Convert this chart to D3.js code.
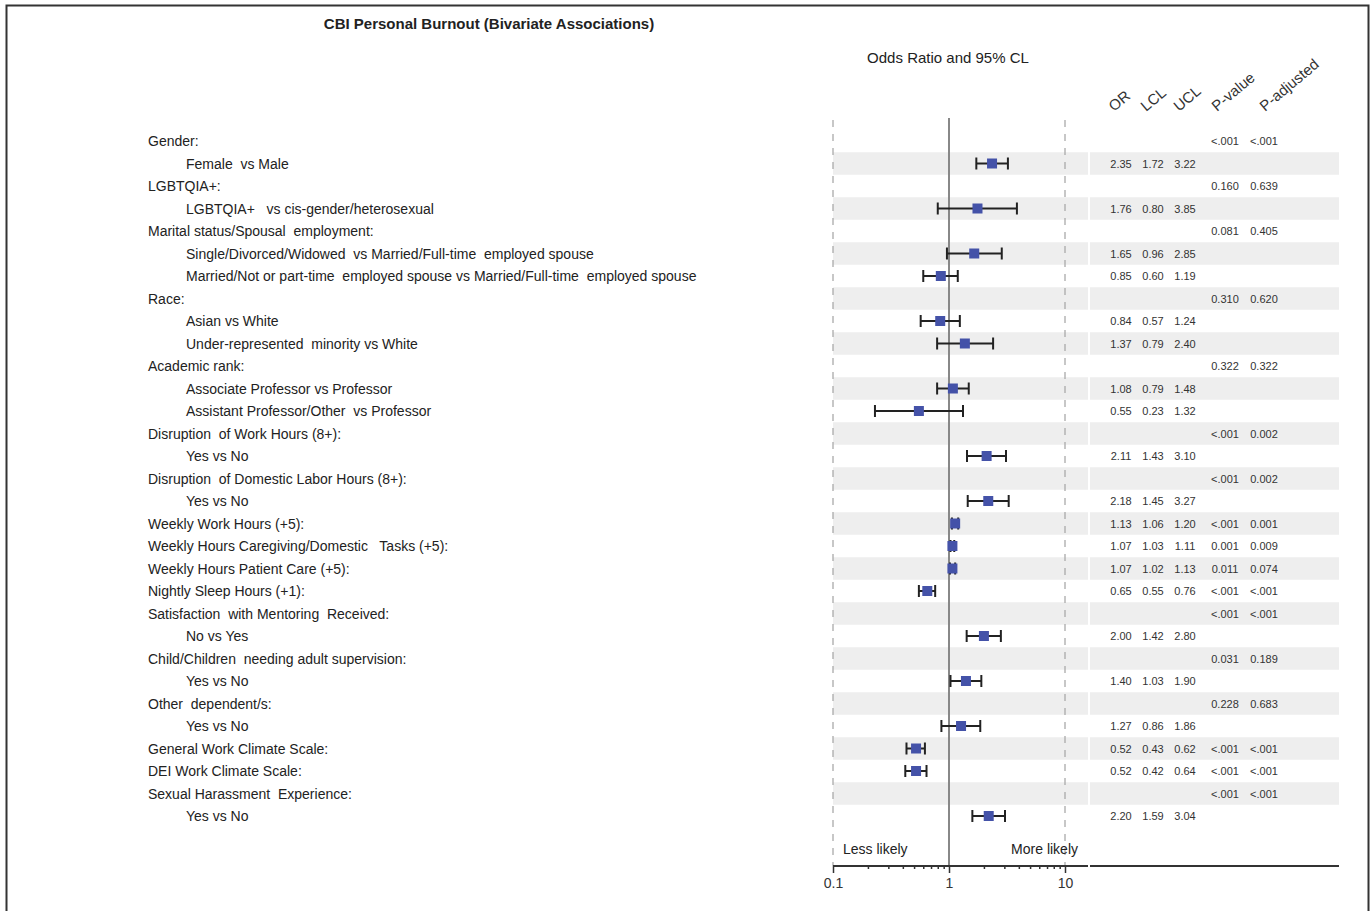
<!DOCTYPE html>
<html>
<head>
<meta charset="utf-8">
<script src="https://cdn.jsdelivr.net/npm/d3@7"></script>
<style>
  html, body { margin: 0; padding: 0; background: #fff; }
  svg { display: block; font-family: "Liberation Sans", Arial, sans-serif; }
</style>
</head>
<body>
<svg id="chart" width="1371" height="911"></svg>
<script>
// ---- data ----
const labels = [
  "Gender:",
  "Female  vs Male",
  "LGBTQIA+:",
  "LGBTQIA+   vs cis-gender/heterosexual",
  "Marital status/Spousal  employment:",
  "Single/Divorced/Widowed  vs Married/Full-time  employed spouse",
  "Married/Not or part-time  employed spouse vs Married/Full-time  employed spouse",
  "Race:",
  "Asian vs White",
  "Under-represented  minority vs White",
  "Academic rank:",
  "Associate Professor vs Professor",
  "Assistant Professor/Other  vs Professor",
  "Disruption  of Work Hours (8+):",
  "Yes vs No",
  "Disruption  of Domestic Labor Hours (8+):",
  "Yes vs No",
  "Weekly Work Hours (+5):",
  "Weekly Hours Caregiving/Domestic   Tasks (+5):",
  "Weekly Hours Patient Care (+5):",
  "Nightly Sleep Hours (+1):",
  "Satisfaction  with Mentoring  Received:",
  "No vs Yes",
  "Child/Children  needing adult supervision:",
  "Yes vs No",
  "Other  dependent/s:",
  "Yes vs No",
  "General Work Climate Scale:",
  "DEI Work Climate Scale:",
  "Sexual Harassment  Experience:",
  "Yes vs No"
];
// 0 = category level, 1 = indented sub-level
const levels = [0,1,0,1,0,1,1,0,1,1,0,1,1,0,1,0,1,0,0,0,0,0,1,0,1,0,1,0,0,0,1];
const oddsRatio = [null,2.35,null,1.76,null,1.65,0.85,null,0.84,1.37,null,1.08,0.55,null,2.11,null,2.18,1.13,1.07,1.07,0.65,null,2.00,null,1.40,null,1.27,0.52,0.52,null,2.20];
const lowerCL   = [null,1.72,null,0.80,null,0.96,0.60,null,0.57,0.79,null,0.79,0.23,null,1.43,null,1.45,1.06,1.03,1.02,0.55,null,1.42,null,1.03,null,0.86,0.43,0.42,null,1.59];
const upperCL   = [null,3.22,null,3.85,null,2.85,1.19,null,1.24,2.40,null,1.48,1.32,null,3.10,null,3.27,1.20,1.11,1.13,0.76,null,2.80,null,1.90,null,1.86,0.62,0.64,null,3.04];
const pValue    = ["<.001",null,"0.160",null,"0.081",null,null,"0.310",null,null,"0.322",null,null,"<.001",null,"<.001",null,"<.001","0.001","0.011","<.001","<.001",null,"0.031",null,"0.228",null,"<.001","<.001","<.001",null];
const pAdjusted = ["<.001",null,"0.639",null,"0.405",null,null,"0.620",null,null,"0.322",null,null,"0.002",null,"0.002",null,"0.001","0.009","0.074","<.001","<.001",null,"0.189",null,"0.683",null,"<.001","<.001","<.001",null];
const columnHeaders = ["OR","LCL","UCL","P-value","P-adjusted"];
const majorTicks = [0.1, 1, 10];
const minorTicks = [0.2,0.3,0.4,0.5,0.6,0.7,0.8,0.9,2,3,4,5,6,7,8,9];
const title = "CBI Personal Burnout (Bivariate Associations)";
const subtitle = "Odds Ratio and 95% CL";

// ---- layout ----
const svg = d3.select("#chart");
const x = d3.scaleLog().domain([0.1, 10]).range([833, 1065]);
const y = d3.scaleLinear().domain([0, labels.length - 1]).range([141, 816]);
const rowH = 22.5;
const axisY = 866;
const plotRight = 1088;
const tableLeft = 1090, tableRight = 1339;
const colX = [1121, 1153, 1185, 1225, 1264];

// frame
svg.append("rect").attr("x", 6.5).attr("y", 5.5).attr("width", 1362).attr("height", 930)
  .attr("fill", "none").attr("stroke", "#333").attr("stroke-width", 2);

// title
svg.append("text").attr("x", 489).attr("y", 29).attr("text-anchor", "middle")
  .attr("font-size", 15).attr("font-weight", "bold").attr("fill", "#222").text(title);
svg.append("text").attr("x", 948).attr("y", 63).attr("text-anchor", "middle")
  .attr("font-size", 15).attr("fill", "#222").text(subtitle);

// bands (even rows, 1-based)
const idx = d3.range(labels.length);
const banded = idx.filter(i => i % 2 === 1);
svg.append("g").selectAll("rect.pb").data(banded).join("rect")
  .attr("x", x(0.1)).attr("width", plotRight - x(0.1))
  .attr("y", i => y(i) - rowH / 2).attr("height", rowH).attr("fill", "#eeeeee");
svg.append("g").selectAll("rect.tb").data(banded).join("rect")
  .attr("x", tableLeft).attr("width", tableRight - tableLeft)
  .attr("y", i => y(i) - rowH / 2).attr("height", rowH).attr("fill", "#eeeeee");

// dashed lines at 0.1 and 10
svg.append("g").selectAll("line").data([0.1, 10]).join("line")
  .attr("x1", d => x(d)).attr("x2", d => x(d)).attr("y1", 120).attr("y2", axisY)
  .attr("stroke", "#aaa").attr("stroke-width", 1.3).attr("stroke-dasharray", "7,7");

// reference line at 1
svg.append("line").attr("x1", x(1)).attr("x2", x(1)).attr("y1", 118).attr("y2", axisY)
  .attr("stroke", "#888").attr("stroke-width", 2);

// labels
svg.append("g").selectAll("text").data(idx).join("text")
  .attr("x", i => levels[i] ? 186 : 148).attr("y", i => y(i) + 5)
  .attr("font-size", 14).attr("fill", "#222").style("white-space", "pre")
  .text(i => labels[i]);

// error bars
const est = idx.filter(i => oddsRatio[i] != null);
const eb = svg.append("g").attr("stroke", "#222").attr("stroke-width", 2);
eb.selectAll("line.h").data(est).join("line")
  .attr("x1", i => x(lowerCL[i])).attr("x2", i => x(upperCL[i]))
  .attr("y1", i => y(i)).attr("y2", i => y(i));
eb.selectAll("line.l").data(est).join("line")
  .attr("x1", i => x(lowerCL[i])).attr("x2", i => x(lowerCL[i]))
  .attr("y1", i => y(i) - 6).attr("y2", i => y(i) + 6);
eb.selectAll("line.u").data(est).join("line")
  .attr("x1", i => x(upperCL[i])).attr("x2", i => x(upperCL[i]))
  .attr("y1", i => y(i) - 6).attr("y2", i => y(i) + 6);
svg.append("g").selectAll("rect").data(est).join("rect")
  .attr("x", i => x(oddsRatio[i]) - 5).attr("y", i => y(i) - 5)
  .attr("width", 10).attr("height", 10).attr("fill", "#4452a8");

// table
const fmt = d3.format(".2f");
const tcols = [
  i => oddsRatio[i] == null ? "" : fmt(oddsRatio[i]),
  i => lowerCL[i] == null ? "" : fmt(lowerCL[i]),
  i => upperCL[i] == null ? "" : fmt(upperCL[i]),
  i => pValue[i] || "",
  i => pAdjusted[i] || ""
];
tcols.forEach((f, c) => {
  svg.append("g").selectAll("text").data(idx).join("text")
    .attr("x", colX[c]).attr("y", i => y(i) + 4).attr("text-anchor", "middle")
    .attr("font-size", 11).attr("fill", "#333").text(f);
});

// column headers
const headStart = [1114, 1146, 1179, 1217, 1265];
svg.append("g").selectAll("text").data(columnHeaders).join("text")
  .attr("transform", (d, c) => `translate(${headStart[c]},112) rotate(-40)`)
  .attr("font-size", 15).attr("fill", "#333").text(d => d);

// axis
const axis = d3.axisBottom(x).tickValues(majorTicks).tickFormat(d3.format("")).tickSize(7).tickSizeOuter(0);
const ag = svg.append("g").attr("transform", `translate(0,${axisY})`).call(axis);
ag.select(".domain").remove();
ag.selectAll(".tick line").attr("stroke", "#333").attr("stroke-width", 1.5);
ag.selectAll(".tick text").attr("font-size", 14).attr("fill", "#333").attr("dy", "0.85em")
  .attr("font-family", "Liberation Sans, Arial, sans-serif");
const minorAxis = d3.axisBottom(x).tickValues(minorTicks).tickFormat("").tickSize(3).tickSizeOuter(0);
const mg = svg.append("g").attr("transform", `translate(0,${axisY})`).call(minorAxis);
mg.select(".domain").remove();
mg.selectAll(".tick line").attr("stroke", "#333").attr("stroke-width", 1.5);
svg.append("line").attr("x1", x(0.1)).attr("x2", plotRight).attr("y1", axisY).attr("y2", axisY)
  .attr("stroke", "#333").attr("stroke-width", 2);
svg.append("line").attr("x1", tableLeft).attr("x2", tableRight).attr("y1", axisY).attr("y2", axisY)
  .attr("stroke", "#333").attr("stroke-width", 2);

svg.append("text").attr("x", 843).attr("y", 854).attr("font-size", 14).attr("fill", "#222").text("Less likely");
svg.append("text").attr("x", 1078).attr("y", 854).attr("text-anchor", "end").attr("font-size", 14).attr("fill", "#222").text("More likely");
</script>
</body>
</html>
